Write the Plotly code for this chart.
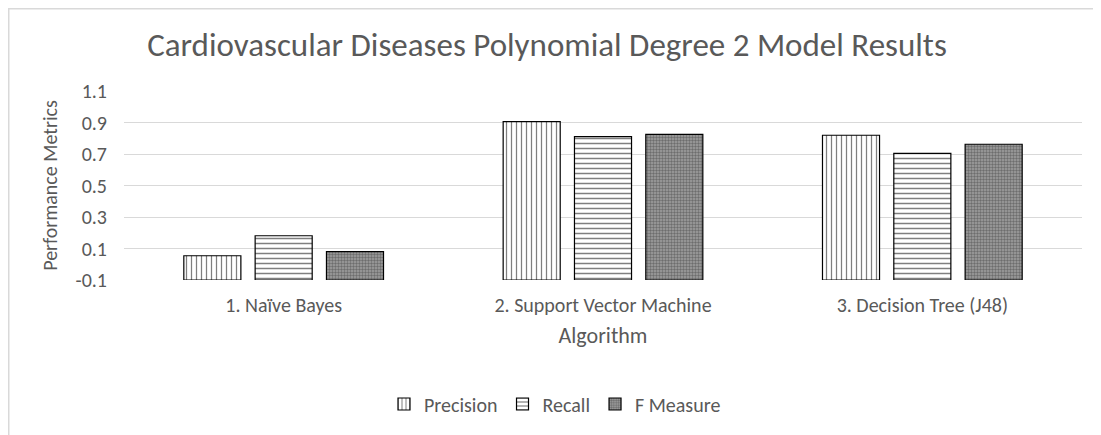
import plotly.graph_objects as go

categories = ["1. Naïve Bayes", "2. Support Vector Machine", "3. Decision Tree (J48)"]
precision = [0.054, 0.905, 0.819]
recall = [0.181, 0.81, 0.704]
f_measure = [0.08, 0.825, 0.762]
y_ticks = [-0.1, 0.1, 0.3, 0.5, 0.7, 0.9, 1.1]

AXIS_MIN = -0.1
FONT = "Carlito, Lato, sans-serif"
TXT = "#595959"

# page body adds an 8px offset; size figure so the plot lands where the reference has it
W, H = 1093, 427
ML, MT, MR = 116, 83, 19
PH = 189
MB = H - MT - PH
PW = W - ML - MR

fig = go.Figure()

series = [
    ("Precision", precision, dict(shape="|", fgcolor="black", bgcolor="white", size=5, solidity=0.25)),
    ("Recall", recall, dict(shape="-", fgcolor="black", bgcolor="white", size=5, solidity=0.3)),
    ("F Measure", f_measure, dict(shape=".", fgcolor="#3a3a3a", bgcolor="#a0a0a0", size=3, solidity=0.5)),
]
for name, vals, pat in series:
    fig.add_trace(go.Bar(
        name=name,
        x=categories,
        y=[v - AXIS_MIN for v in vals],
        base=AXIS_MIN,
        marker=dict(color="white", line=dict(color="black", width=1.2), pattern=pat),
    ))

fig.update_layout(
    width=W, height=H,
    margin=dict(l=ML, r=MR, t=MT, b=MB, autoexpand=False),
    paper_bgcolor="white", plot_bgcolor="white",
    barmode="group", bargap=0.33, bargroupgap=0.2,
    title=dict(text="Cardiovascular Diseases Polynomial Degree 2 Model Results",
               x=(547 - 8) / W, xanchor="center", xref="container", y=1 - 36 / H, yanchor="middle",
               font=dict(family=FONT, size=33, color=TXT)),
    font=dict(family=FONT, color=TXT),
    legend=dict(orientation="h", xref="paper", x=(555 - 8 - ML) / PW, xanchor="center",
                y=-124 / PH, yanchor="middle",
                font=dict(family=FONT, size=20, color=TXT), traceorder="normal"),
    shapes=[dict(type="rect", xref="paper", yref="paper",
                 x0=(0.75 - ML) / PW, x1=1.3, y0=-2, y1=(PH + MT - 0.75) / PH,
                 line=dict(color="#d9d9d9", width=1.5), layer="below")],
)
fig.update_yaxes(range=[-0.1, 1.1], tickvals=y_ticks, ticktext=[f"{t:.1f}" for t in y_ticks],
                 showgrid=True, gridcolor="#d9d9d9", gridwidth=1, zeroline=False,
                 showline=False, tickfont=dict(size=20, color=TXT), ticklabelstandoff=16,
                 title=dict(text="Performance Metrics", font=dict(size=20, color=TXT), standoff=12),
                 fixedrange=True)
fig.update_xaxes(showline=False, showgrid=False, tickfont=dict(size=20, color=TXT),
                 ticklabelstandoff=11, tickangle=0,
                 title=dict(text="Algorithm", font=dict(size=22, color=TXT), standoff=11),
                 ticks="", ticklen=0)

fig.write_html("out.html")
